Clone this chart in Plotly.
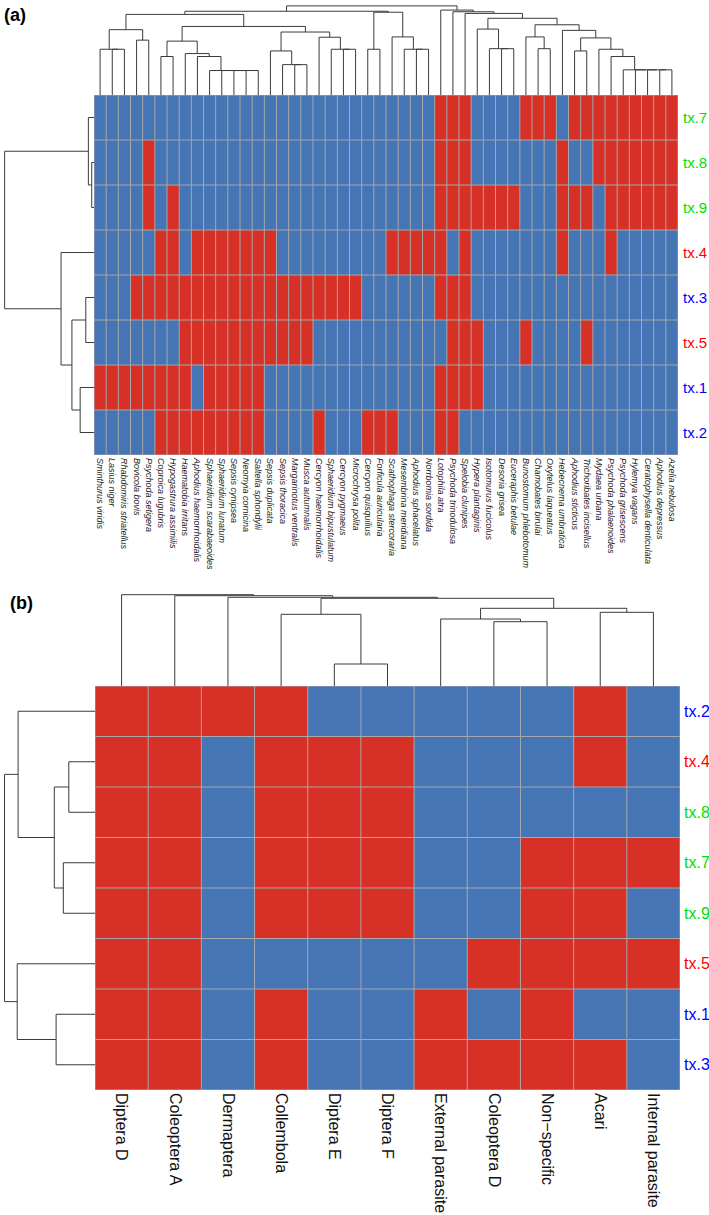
import plotly.graph_objects as go

W, H = 709, 1215
RED = "#D73027"
BLUE = "#4575B4"
GRID = "#A8A8A8"
DLINE = "#3a3a3a"
FONT = "Liberation Sans, Arial, sans-serif"

# ---------------- Panel (a) data ----------------
a_species = [
    "Sminthurus viridis", "Lasius niger", "Rhabdomiris striatellus", "Bovicola bovis",
    "Psychoda setigera", "Coproica lugubris", "Hypogastrura assimilis", "Haematobia irritans",
    "Aphodius haemorrhoidalis", "Sphaeridium scarabaeoides", "Sphaeridium lunatum", "Sepsis cynipsea",
    "Neomyia cornicina", "Saltella sphondylii", "Sepsis duplicata", "Sepsis thoracica",
    "Margarinotus ventralis", "Musca autumnalis", "Cercyon haemorrhoidalis", "Sphaeridium bipustulatum",
    "Cercyon pygmaeus", "Microchrysa polita", "Cercyon quisquilius", "Forficula auricularia",
    "Scathophaga stercoraria", "Mesembrina meridiana", "Aphodius sphacelatus", "Norrbomia sordida",
    "Lotophila atra", "Psychoda trinodulosa", "Spelobia clunipes", "Hypera plantaginis",
    "Isotomurus fucicolus", "Desoria grisea", "Euceraphis betulae", "Bunostomum phlebotomum",
    "Chamobates birulai", "Oxytelus laqueatus", "Hebecnema umbratica", "Aphodius sticticus",
    "Trichoribates incisellus", "Mydaea urbana", "Psychoda phalaenoides", "Psychoda grisescens",
    "Hylemya vagans", "Ceratophysella denticulata", "Aphodius depressus", "Azelia nebulosa",
]
a_rows = ["tx.7", "tx.8", "tx.9", "tx.4", "tx.3", "tx.5", "tx.1", "tx.2"]
a_row_colors = ["#00E000", "#00E000", "#00E000", "#FF0000", "#0000FF", "#FF0000", "#0000FF", "#0000FF"]

a_tx7 = [0,0,0,0,0,0,0,0,0,0, 0,0,0,0,0,0,0,0,0,0, 0,0,0,0,0,0,0,0,1,1, 1,0,0,0,0,1,1,1,0,1, 1,1,1,1,1,1,1,1]
a_tx8 = [0,0,0,0,1,0,0,0,0,0, 0,0,0,0,0,0,0,0,0,0, 0,0,0,0,0,0,0,0,1,1, 1,0,0,0,0,0,0,0,1,0, 0,1,1,1,1,1,1,1]
a_tx9 = [0,0,0,0,1,0,1,0,0,0, 0,0,0,0,0,0,0,0,0,0, 0,0,0,0,0,0,0,0,1,1, 1,1,1,1,1,0,0,0,1,1, 1,0,1,1,1,1,1,1]
a_tx4 = [0,0,0,0,0,1,1,0,1,1, 1,1,1,1,1,0,0,0,0,0, 0,0,0,0,1,1,1,1,1,0, 1,0,0,0,0,0,0,0,1,0, 0,0,1,0,0,0,0,0]
a_tx3 = [0,0,0,1,1,1,1,1,1,1, 1,1,1,1,1,1,1,1,1,1, 1,1,0,0,0,0,0,0,1,1, 1,0,0,0,0,0,0,0,0,0, 0,0,0,0,0,0,0,0]
a_tx5 = [0,0,0,0,0,0,0,1,1,1, 1,1,1,1,1,1,1,1,0,0, 0,0,0,0,0,0,0,0,0,1, 1,1,0,0,0,1,0,0,0,0, 1,0,0,0,0,0,0,0]
a_tx1 = [1,1,1,1,1,1,1,1,0,1, 1,1,1,1,0,0,0,0,0,0, 0,0,0,0,0,0,0,0,1,1, 1,1,0,0,0,0,0,0,0,0, 0,0,0,0,0,0,0,0]
a_tx2 = [0,0,0,0,0,1,1,1,1,1, 1,1,1,1,0,0,0,0,1,0, 0,0,1,1,1,0,0,0,1,1, 0,0,0,0,0,0,0,0,0,0, 0,0,0,0,0,0,0,0]
a_matrix = [a_tx7, a_tx8, a_tx9, a_tx4, a_tx3, a_tx5, a_tx1, a_tx2]

# column dendrogram merges (left id, right id, height); leaves 0..47, nodes from 48
a_col_merges = [
    (1, 2, 46.7), (0, 48, 46.7), (3, 4, 56), (49, 50, 66.7), (5, 6, 39.3),
    (12, 13, 25), (11, 53, 25), (10, 54, 25), (9, 55, 25), (8, 56, 39.3),
    (7, 57, 42.3), (52, 58, 55), (16, 17, 31), (15, 60, 31), (14, 61, 45),
    (20, 21, 46.7), (19, 63, 46.7), (18, 64, 59), (62, 65, 64.3), (59, 66, 70),
    (51, 67, 82.3), (22, 23, 46.7), (26, 27, 46.7), (25, 70, 46.7), (24, 71, 59.3),
    (69, 72, 84.5), (68, 73, 85.5), (46, 47, 25.7), (45, 75, 25.7), (44, 76, 25.7),
    (43, 77, 25.7), (42, 78, 39.3), (41, 79, 46.7), (39, 40, 45), (81, 80, 58.3),
    (38, 82, 66), (36, 37, 47.3), (35, 84, 59.3), (85, 83, 71.7), (33, 34, 47.3),
    (32, 87, 47.3), (31, 88, 67.3), (89, 86, 78.3), (30, 90, 83.3), (29, 91, 85),
    (28, 92, 86.7), (74, 93, 91),
]
a_row_merges = [
    (1, 2, 2.3), (0, 8, 5.7), (4, 5, 8.3), (6, 7, 14), (10, 11, 22.3), (3, 12, 33.3), (9, 13, 90.3),
]

# ---------------- Panel (b) data ----------------
b_groups = ["Diptera D", "Coleoptera A", "Dermaptera", "Collembola", "Diptera E", "Diptera F",
            "External parasite", "Coleoptera D", "Non\u2212specific", "Acari", "Internal parasite"]
b_rows = ["tx.2", "tx.4", "tx.8", "tx.7", "tx.9", "tx.5", "tx.1", "tx.3"]
b_row_colors = ["#0000FF", "#FF0000", "#00E000", "#00E000", "#00E000", "#FF0000", "#0000FF", "#0000FF"]
b_tx2 = [1, 1, 1, 1, 0, 0, 0, 0, 0, 1, 0]
b_tx4 = [1, 1, 0, 1, 1, 1, 0, 0, 0, 1, 0]
b_tx8 = [1, 1, 0, 1, 1, 1, 0, 0, 0, 0, 0]
b_tx7 = [1, 1, 0, 1, 1, 1, 0, 0, 1, 1, 1]
b_tx9 = [1, 1, 0, 1, 1, 1, 0, 0, 1, 1, 0]
b_tx5 = [1, 1, 0, 0, 0, 0, 0, 1, 1, 1, 1]
b_tx1 = [1, 1, 0, 1, 0, 0, 1, 0, 1, 0, 0]
b_tx3 = [1, 1, 0, 1, 0, 0, 1, 1, 1, 1, 0]
b_matrix = [b_tx2, b_tx4, b_tx8, b_tx7, b_tx9, b_tx5, b_tx1, b_tx3]
b_col_merges = [
    (4, 5, 22), (3, 11, 71.7), (7, 8, 64.3), (6, 13, 67), (9, 10, 73.7),
    (14, 15, 77.7), (12, 16, 87.7), (2, 17, 88.7), (1, 18, 90.3), (0, 19, 91.3),
]
b_row_merges = [
    (1, 2, 26.2), (3, 4, 31.7), (8, 9, 40.7), (0, 10, 76.9), (6, 7, 38.9), (5, 12, 77.8), (11, 13, 90.5),
]

# ---------------- helpers ----------------
def fx(p):
    return p / W


def fy(p):
    return 1 - p / H


def dendro_xy(merges, n, horizontal_leaves=True):
    pos = {i: float(i) for i in range(n)}
    hgt = {i: 0.0 for i in range(n)}
    a_list, b_list = [], []
    for k, (l, r, h) in enumerate(merges):
        node = n + k
        pl, pr = pos[l], pos[r]
        a_list += [pl, pl, pr, pr, None]
        b_list += [hgt[l], h, h, hgt[r], None]
        pos[node] = (pl + pr) / 2
        hgt[node] = h
    if horizontal_leaves:
        return a_list, b_list
    return b_list, a_list


def grid_xy(nc, nr):
    xs, ys = [], []
    for i in range(nc + 1):
        xs += [i - 0.5, i - 0.5, None]
        ys += [-0.5, nr - 0.5, None]
    for j in range(nr + 1):
        xs += [-0.5, nc - 0.5, None]
        ys += [j - 0.5, j - 0.5, None]
    return xs, ys


colorscale = [[0, BLUE], [0.5, BLUE], [0.5, RED], [1, RED]]
fig = go.Figure()

# heatmap (a)
na_c, na_r = len(a_species), len(a_rows)
fig.add_trace(go.Heatmap(z=a_matrix, x=list(range(na_c)), y=list(range(na_r)), colorscale=colorscale,
                         zmin=0, zmax=1, showscale=False, hoverinfo="skip", xaxis="x", yaxis="y"))
gx, gy = grid_xy(na_c, na_r)
fig.add_trace(go.Scatter(x=gx, y=gy, mode="lines", line=dict(color=GRID, width=1), hoverinfo="skip",
                         showlegend=False, xaxis="x", yaxis="y"))
dx, dy = dendro_xy(a_col_merges, na_c, True)
fig.add_trace(go.Scatter(x=dx, y=dy, mode="lines", line=dict(color=DLINE, width=1), hoverinfo="skip",
                         showlegend=False, xaxis="x2", yaxis="y2"))
dx, dy = dendro_xy(a_row_merges, na_r, False)
fig.add_trace(go.Scatter(x=dx, y=dy, mode="lines", line=dict(color=DLINE, width=1), hoverinfo="skip",
                         showlegend=False, xaxis="x3", yaxis="y3"))

# heatmap (b)
nb_c, nb_r = len(b_groups), len(b_rows)
fig.add_trace(go.Heatmap(z=b_matrix, x=list(range(nb_c)), y=list(range(nb_r)), colorscale=colorscale,
                         zmin=0, zmax=1, showscale=False, hoverinfo="skip", xaxis="x4", yaxis="y4"))
gx, gy = grid_xy(nb_c, nb_r)
fig.add_trace(go.Scatter(x=gx, y=gy, mode="lines", line=dict(color=GRID, width=1), hoverinfo="skip",
                         showlegend=False, xaxis="x4", yaxis="y4"))
dx, dy = dendro_xy(b_col_merges, nb_c, True)
fig.add_trace(go.Scatter(x=dx, y=dy, mode="lines", line=dict(color=DLINE, width=1), hoverinfo="skip",
                         showlegend=False, xaxis="x5", yaxis="y5"))
dx, dy = dendro_xy(b_row_merges, nb_r, False)
fig.add_trace(go.Scatter(x=dx, y=dy, mode="lines", line=dict(color=DLINE, width=1), hoverinfo="skip",
                         showlegend=False, xaxis="x6", yaxis="y6"))

hidden = dict(showgrid=False, zeroline=False, showticklabels=False, ticks="", showline=False, fixedrange=True)

# pixel layout
A_L, A_R, A_T, A_B = 94, 678, 95, 455
B_L, B_R, B_T, B_B = 95, 680, 686, 1090

fig.update_layout(
    width=W, height=H, margin=dict(l=0, r=0, t=0, b=0), autosize=False,
    paper_bgcolor="white", plot_bgcolor="white", showlegend=False,
    font=dict(family=FONT, color="black"),
    xaxis=dict(domain=[fx(A_L), fx(A_R)], range=[-0.5, na_c - 0.5], anchor="y",
               tickmode="array", tickvals=list(range(na_c)),
               ticktext=["<i>" + s + "</i>" for s in a_species], tickangle=90,
               tickfont=dict(size=9, color="#222222"), ticks="", showgrid=False, zeroline=False,
               showline=False, ticklabelstandoff=2, fixedrange=True),
    yaxis=dict(domain=[fy(A_B), fy(A_T)], range=[na_r - 0.5, -0.5], anchor="x", **hidden),
    xaxis2=dict(domain=[fx(A_L), fx(A_R)], range=[-0.5, na_c - 0.5], anchor="y2", **hidden),
    yaxis2=dict(domain=[fy(A_T), fy(0)], range=[0, 97], anchor="x2", **hidden),
    xaxis3=dict(domain=[fx(0), fx(A_L)], range=[95, 0], anchor="y3", **hidden),
    yaxis3=dict(domain=[fy(A_B), fy(A_T)], range=[na_r - 0.5, -0.5], anchor="x3", **hidden),
    xaxis4=dict(domain=[fx(B_L), fx(B_R)], range=[-0.5, nb_c - 0.5], anchor="y4",
                tickmode="array", tickvals=list(range(nb_c)), ticktext=b_groups, tickangle=90,
                tickfont=dict(size=16, color="#111111"), ticks="", showgrid=False, zeroline=False,
                showline=False, ticklabelstandoff=2, fixedrange=True),
    yaxis4=dict(domain=[fy(B_B), fy(B_T)], range=[nb_r - 0.5, -0.5], anchor="x4", **hidden),
    xaxis5=dict(domain=[fx(B_L), fx(B_R)], range=[-0.5, nb_c - 0.5], anchor="y5", **hidden),
    yaxis5=dict(domain=[fy(B_T), fy(B_T - 100)], range=[0, 100], anchor="x5", **hidden),
    xaxis6=dict(domain=[fx(0), fx(B_L)], range=[95, 0], anchor="y6", **hidden),
    yaxis6=dict(domain=[fy(B_B), fy(B_T)], range=[nb_r - 0.5, -0.5], anchor="x6", **hidden),
)

ann = []
for i, (t, c) in enumerate(zip(a_rows, a_row_colors)):
    ann.append(dict(x=fx(A_R + 3), xref="paper", y=i, yref="y", text=t, showarrow=False,
                    xanchor="left", yanchor="middle", font=dict(size=15, color=c, family=FONT)))
for i, (t, c) in enumerate(zip(b_rows, b_row_colors)):
    ann.append(dict(x=fx(B_R + 2), xref="paper", y=i, yref="y4", text=t, showarrow=False,
                    xanchor="left", yanchor="middle", font=dict(size=16, color=c, family=FONT)))
ann.append(dict(x=fx(2), y=fy(15), xref="paper", yref="paper", text="<b>(a)</b>", showarrow=False,
                xanchor="left", yanchor="middle", font=dict(size=18, color="black", family=FONT)))
ann.append(dict(x=fx(8), y=fy(603), xref="paper", yref="paper", text="<b>(b)</b>", showarrow=False,
                xanchor="left", yanchor="middle", font=dict(size=18, color="black", family=FONT)))
fig.update_layout(annotations=ann)

fig.write_html(
    "out.html",
    include_plotlyjs=True,
    config={"displayModeBar": False, "staticPlot": True},
    post_script="document.body.style.margin='0';document.body.style.padding='0';"
                "document.documentElement.style.overflow='hidden';",
)
